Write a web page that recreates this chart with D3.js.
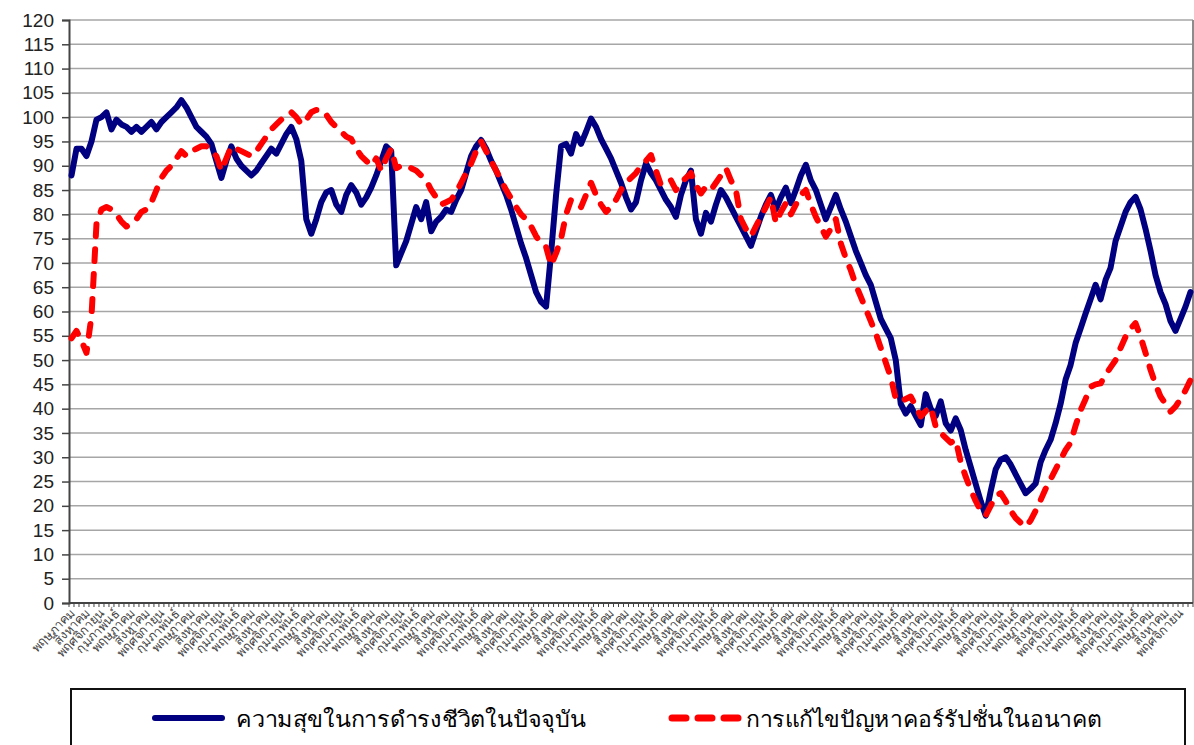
<!DOCTYPE html>
<html>
<head>
<meta charset="utf-8">
<script src="https://cdn.jsdelivr.net/npm/d3@7"></script>
<style>
  body { margin: 0; background: #fff; }
  svg { display: block; }
</style>
</head>
<body>
<svg id="chart" width="1194" height="745"></svg>
<script>
// Thai month names, data runs monthly starting at May
const monthNames = ['มกราคม','กุมภาพันธ์','มีนาคม','เมษายน','พฤษภาคม','มิถุนายน',
  'กรกฎาคม','สิงหาคม','กันยายน','ตุลาคม','พฤศจิกายน','ธันวาคม'];
const startMonth = 4;

const seriesNames = ['ความสุขในการดำรงชีวิตในปัจจุบัน', 'การแก้ไขปัญหาคอร์รัปชั่นในอนาคต'];

const happiness = [
  88, 93.5, 93.5, 92, 95, 99.5, 100, 101, 97.5, 99.5,
  98.5, 98, 97, 98, 97, 98, 99, 97.5, 99, 100,
  101, 102, 103.5, 102, 100, 98, 97, 96, 94.5, 91,
  87.5, 91, 94, 91.5, 90, 89, 88, 89, 90.5, 92,
  93.5, 92.5, 94.5, 96.5, 98, 95.5, 91, 79, 76, 79,
  82.5, 84.5, 85, 82, 80.5, 84, 86, 84.5, 82, 83.5,
  85.5, 88, 91, 94, 93, 69.5, 72, 74.5, 78, 81.5,
  79, 82.5, 76.5, 78.5, 79.5, 81, 80.5, 83, 85, 88.5,
  92, 94, 95.3, 93.5, 91, 89, 86.5, 84, 81, 77.5,
  74, 71, 67.5, 64, 62, 61, 72, 84, 94, 94.5,
  92.5, 96.5, 94.5, 97, 99.7, 98, 95.5, 93.5, 91.5, 89,
  86.5, 83.5, 81, 82.5, 87, 90.5, 88.5, 87, 85, 83,
  81.5, 79.5, 84, 87, 89, 79, 76, 80.3, 78.5, 82,
  85, 83.5, 81.5, 79.5, 77.5, 75.5, 73.5, 76.5, 79.5, 82,
  84, 81, 83.5, 85.5, 82.3, 85, 88, 90.2, 87, 85,
  82, 79, 81.5, 84, 81, 78.5, 75.5, 72.5, 70, 67.5,
  65.5, 62, 58.5, 56.5, 54.5, 50, 41, 39, 40.5, 38.5,
  36.6, 43, 40, 38.5, 41.5, 37, 35.5, 38, 35.6, 31.5,
  28, 24.5, 21, 18, 23, 27.5, 29.5, 30, 28.5, 26.5,
  24.5, 22.6, 23.5, 24.6, 29, 31.5, 33.6, 37, 41, 46,
  49, 53.5, 56.5, 59.6, 62.5, 65.5, 62.5, 66.5, 69, 74.5,
  77.5, 80.5, 82.5, 83.6, 81, 77, 72.5, 67.5, 64, 61.5,
  58, 56, 58.5, 61, 64
];

const corruption = [
  54.5, 56, 54, 51.5, 59, 78, 81, 81.5, 81, 80,
  78.5, 77.5, 78, 79, 80.5, 81, 82.5, 85, 87.5, 89,
  90, 91.5, 93, 92, 93, 93.5, 94, 94, 93, 92,
  89, 91.5, 94, 93.5, 93, 92.5, 92, 93, 94.5, 96,
  97.5, 98.5, 99.5, 100.5, 101, 100, 98.5, 99.5, 101, 101.5,
  101.5, 100.5, 99, 98, 97, 96, 95.5, 93.5, 92, 91,
  90, 91.5, 89, 91.5, 93.5, 89.5, 90, 90, 89.5, 89,
  88, 87, 85, 83.5, 82, 82.5, 83, 84.5, 86.5, 88.5,
  90.5, 93, 95, 93, 91, 89, 87, 85, 83.3, 81.5,
  80, 79, 77.5, 75.5, 74, 73.3, 69.5, 72, 75, 80,
  83, 82.5, 81.5, 84, 86.5, 84, 82, 80.5, 81.5, 83,
  85, 86.5, 87.5, 88.5, 90, 91, 92.2, 89, 86, 86.5,
  87, 85, 86.5, 87.5, 88.5, 86, 84.3, 85.7, 85, 86.5,
  88, 89.5, 87, 85, 79, 77, 75.5, 77.5, 79.5, 81.5,
  83.5, 78.2, 80.5, 82.3, 80, 82, 84, 85, 82, 79.5,
  77.5, 75.4, 77, 79, 74, 71, 68.5, 65.5, 63, 60.5,
  58, 55.5, 52.5, 49.5, 46.5, 42, 41.5, 42, 42.5, 40.5,
  38.4, 39.5, 40.4, 36.3, 35, 34, 33, 33.6, 29, 26,
  23.3, 21, 19, 18, 20, 22, 22.6, 21, 19, 17.5,
  16.5, 15.7, 17, 19, 21.2, 23.5, 25.5, 27.5, 29.5, 31.5,
  33, 36.5, 39.7, 42, 44.5, 45, 45.2, 47, 48.5, 50,
  52.5, 54.8, 56.5, 57.6, 54.8, 51.5, 48, 45, 42.5, 41,
  39.4, 40.4, 42, 43.8, 45.9
];

const yTicks = d3.range(0, 121, 5);
const categories = happiness.map((d, i) => monthNames[(startMonth + i) % 12]);

const svg = d3.select('#chart');
const plotLeft = 69, plotRight = 1193, plotTop = 20, plotBottom = 603;

const x = d3.scaleBand().domain(d3.range(categories.length)).range([plotLeft, plotRight]).padding(0);
const y = d3.scaleLinear().domain([0, 120]).range([plotBottom, plotTop]);
const bw = x.bandwidth();

// gridlines
svg.append('g').selectAll('line')
  .data(yTicks.filter(d => d > 0))
  .enter().append('line')
  .attr('x1', plotLeft).attr('x2', plotRight)
  .attr('y1', d => y(d)).attr('y2', d => y(d))
  .attr('stroke', '#a6a6a6')
  .attr('stroke-width', 1.5);

// right border
svg.append('line')
  .attr('x1', plotRight).attr('x2', plotRight).attr('y1', plotTop).attr('y2', plotBottom)
  .attr('stroke', '#8c8c8c').attr('stroke-width', 2);

// y axis
const yAxis = svg.append('g')
  .attr('transform', `translate(${plotLeft},0)`)
  .call(d3.axisLeft(y).tickValues(yTicks).tickSize(7).tickPadding(8));
yAxis.select('.domain').attr('stroke', '#444').attr('stroke-width', 2);
yAxis.selectAll('.tick line').attr('stroke', '#444').attr('stroke-width', 1.5);
yAxis.selectAll('.tick text')
  .attr('font-family', 'Liberation Sans, Arial, sans-serif')
  .attr('font-size', 19)
  .attr('fill', '#222');

// x axis line and category ticks
svg.append('line')
  .attr('x1', plotLeft).attr('x2', plotRight).attr('y1', plotBottom).attr('y2', plotBottom)
  .attr('stroke', '#444').attr('stroke-width', 2);
svg.append('g').selectAll('line')
  .data(d3.range(categories.length + 1))
  .enter().append('line')
  .attr('x1', i => plotLeft + i * bw).attr('x2', i => plotLeft + i * bw)
  .attr('y1', plotBottom).attr('y2', plotBottom + 4)
  .attr('stroke', '#444').attr('stroke-width', 1);

// x labels every 3 months
svg.append('g').selectAll('text')
  .data(categories.map((c, i) => ({ c, i })).filter(d => d.i % 3 === 0))
  .enter().append('text')
  .attr('transform', d => `translate(${x(d.i) + bw / 2 + 4},${plotBottom + 11}) rotate(-45)`)
  .attr('text-anchor', 'end')
  .attr('font-family', 'Noto Sans, DejaVu Sans, sans-serif')
  .attr('font-size', 12.5)
  .attr('fill', '#444')
  .text(d => d.c);

// lines
const line = d3.line()
  .x((d, i) => x(i) + bw / 2)
  .y(d => y(d));

svg.append('path')
  .datum(happiness)
  .attr('d', line)
  .attr('fill', 'none')
  .attr('stroke', '#000080')
  .attr('stroke-width', 6)
  .attr('stroke-linejoin', 'round')
  .attr('stroke-linecap', 'round');

svg.append('path')
  .datum(corruption)
  .attr('d', line)
  .attr('fill', 'none')
  .attr('stroke', '#ff0000')
  .attr('stroke-width', 6)
  .attr('stroke-linejoin', 'round')
  .attr('stroke-linecap', 'round')
  .attr('stroke-dasharray', '12,13');

// legend
const legend = svg.append('g');
legend.append('rect')
  .attr('x', 71).attr('y', 689).attr('width', 1114).attr('height', 70)
  .attr('fill', '#fff').attr('stroke', '#111').attr('stroke-width', 2);

legend.append('line')
  .attr('x1', 155).attr('x2', 222).attr('y1', 718).attr('y2', 718)
  .attr('stroke', '#000080').attr('stroke-width', 6).attr('stroke-linecap', 'round');
legend.append('text')
  .attr('x', 236).attr('y', 727)
  .attr('font-family', 'Noto Sans, DejaVu Sans, sans-serif')
  .attr('font-size', 22)
  .attr('textLength', 350).attr('lengthAdjust', 'spacingAndGlyphs')
  .text(seriesNames[0]);

legend.append('line')
  .attr('x1', 672).attr('x2', 740).attr('y1', 718).attr('y2', 718)
  .attr('stroke', '#ff0000').attr('stroke-width', 7).attr('stroke-linecap', 'round')
  .attr('stroke-dasharray', '14,12');
legend.append('text')
  .attr('x', 746).attr('y', 727)
  .attr('font-family', 'Noto Sans, DejaVu Sans, sans-serif')
  .attr('font-size', 22)
  .attr('textLength', 356).attr('lengthAdjust', 'spacingAndGlyphs')
  .text(seriesNames[1]);
</script>
</body>
</html>
